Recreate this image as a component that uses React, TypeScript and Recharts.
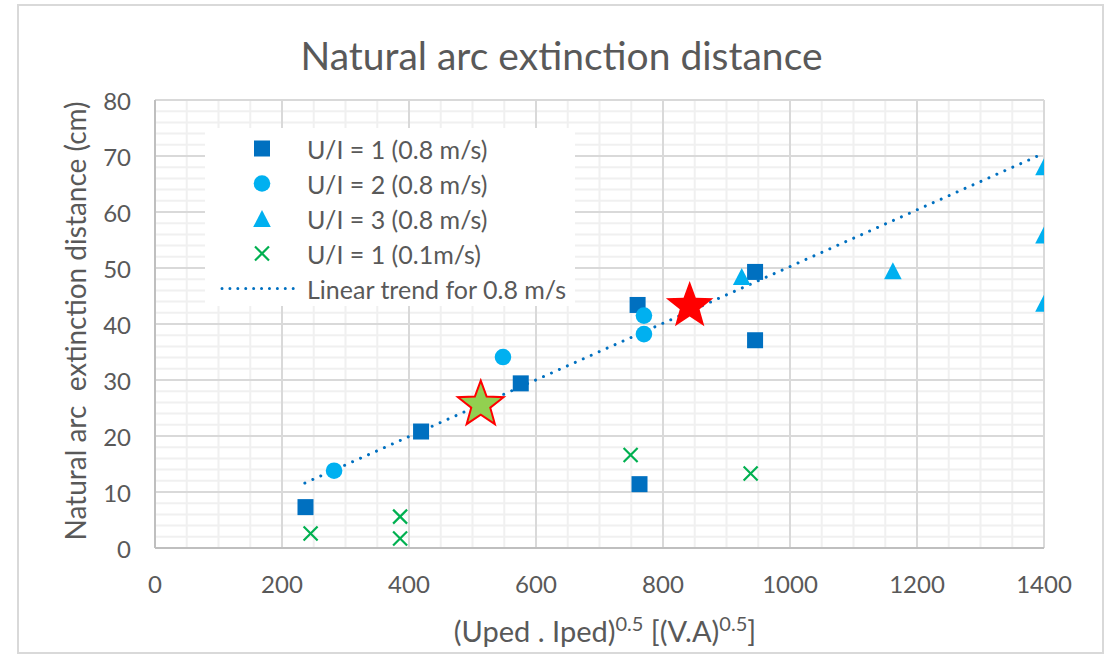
import React from 'react';
import { ScatterChart, Scatter, XAxis, YAxis, ReferenceLine, Legend } from 'recharts';

// ---- data ----
const ui1Fast = [
  { x: 237, y: 7.3 }, { x: 419, y: 20.8 }, { x: 576, y: 29.4 }, { x: 760, y: 43.4 },
  { x: 763, y: 11.4 }, { x: 945, y: 49.3 }, { x: 945, y: 37.1 },
];
const ui2Fast = [{ x: 282, y: 13.8 }, { x: 548, y: 34.1 }, { x: 770, y: 41.5 }, { x: 770, y: 38.2 }];
const ui3Fast = [{ x: 924, y: 48.5 }, { x: 1162, y: 49.5 }, { x: 1400, y: 68.1 }, { x: 1400, y: 55.9 }, { x: 1400, y: 43.7 }];
const ui1Slow = [{ x: 245, y: 2.6 }, { x: 386, y: 5.6 }, { x: 386, y: 1.7 }, { x: 749, y: 16.6 }, { x: 938, y: 13.3 }];
const trend = [{ x: 236, y: 11.6 }, { x: 1400, y: 70.5 }];
const greenStar = [{ x: 513, y: 25.6 }];
const redStar = [{ x: 842, y: 43.2 }];

const xTicks = [0, 200, 400, 600, 800, 1000, 1200, 1400];
const yTicks = [0, 10, 20, 30, 40, 50, 60, 70, 80];
const xMajorGrid = [200, 400, 600, 800, 1000, 1200, 1400];
const yMajorGrid = [10, 20, 30, 40, 50, 60, 70, 80];
const xMinorGrid = [50, 100, 150, 250, 300, 350, 450, 500, 550, 650, 700, 750, 850, 900, 950, 1050, 1100, 1150, 1250, 1300, 1350];
const yMinorGrid = [2, 4, 6, 8, 12, 14, 16, 18, 22, 24, 26, 28, 32, 34, 36, 38, 42, 44, 46, 48, 52, 54, 56, 58, 62, 64, 66, 68, 72, 74, 76, 78];

const legendItems = [
  { label: 'U/I = 1 (0.8 m/s)', kind: 'square' },
  { label: 'U/I = 2 (0.8 m/s)', kind: 'circle' },
  { label: 'U/I = 3 (0.8 m/s)', kind: 'triangle' },
  { label: 'U/I = 1 (0.1m/s)', kind: 'cross' },
  { label: 'Linear trend for 0.8 m/s', kind: 'line' },
];

const DARK_BLUE = '#0070C0';
const LIGHT_BLUE = '#00B0F0';
const GREEN = '#00B050';
const TEXT = '#595959';
const FONT = 'Lato, "Open Sans", sans-serif';

const squareShape = (p: any) => <rect x={p.cx - 8} y={p.cy - 8} width={16} height={16} fill={DARK_BLUE} />;
const circleShape = (p: any) => <circle cx={p.cx} cy={p.cy} r={8.3} fill={LIGHT_BLUE} />;
const triangleShape = (p: any) => (
  <polygon points={`${p.cx},${p.cy - 8.5} ${p.cx + 8.8},${p.cy + 8.5} ${p.cx - 8.8},${p.cy + 8.5}`} fill={LIGHT_BLUE} />
);
const crossShape = (p: any) => (
  <g stroke={GREEN} strokeWidth={2.2}>
    <line x1={p.cx - 7} y1={p.cy - 7} x2={p.cx + 7} y2={p.cy + 7} />
    <line x1={p.cx - 7} y1={p.cy + 7} x2={p.cx + 7} y2={p.cy - 7} />
  </g>
);
const starPoints = (cx: number, cy: number, R: number, r: number) => {
  const pts: string[] = [];
  for (let i = 0; i < 10; i++) {
    const rad = i % 2 === 0 ? R : r;
    const a = -Math.PI / 2 + (i * Math.PI) / 5;
    pts.push(`${cx + rad * Math.cos(a)},${cy + rad * Math.sin(a)}`);
  }
  return pts.join(' ');
};
const greenStarShape = (p: any) => (
  <polygon points={starPoints(p.cx, p.cy, 24, 10)} fill="#92D050" stroke="#FF0000" strokeWidth={2} strokeLinejoin="miter" />
);
const redStarShape = (p: any) => <polygon points={starPoints(p.cx, p.cy, 25, 10.4)} fill="#FF0000" />;
const noShape = () => null;

const LegendIcon = ({ kind }: { kind: string }) => {
  const cx = 57;
  const cy = 17.5;
  return (
    <svg width={100} height={35} style={{ flex: 'none' }}>
      {kind === 'square' && <rect x={cx - 8} y={cy - 8} width={16} height={16} fill={DARK_BLUE} />}
      {kind === 'circle' && <circle cx={cx} cy={cy} r={8.3} fill={LIGHT_BLUE} />}
      {kind === 'triangle' && (
        <polygon points={`${cx},${cy - 8.5} ${cx + 8.8},${cy + 8.5} ${cx - 8.8},${cy + 8.5}`} fill={LIGHT_BLUE} />
      )}
      {kind === 'cross' && (
        <g stroke={GREEN} strokeWidth={2.2}>
          <line x1={cx - 7} y1={cy - 7} x2={cx + 7} y2={cy + 7} />
          <line x1={cx - 7} y1={cy + 7} x2={cx + 7} y2={cy - 7} />
        </g>
      )}
      {kind === 'line' && (
        <line x1={17} y1={cy} x2={89} y2={cy} stroke={DARK_BLUE} strokeWidth={3} strokeDasharray="0.01 7.9" strokeLinecap="round" />
      )}
    </svg>
  );
};

const renderLegend = () => (
  <div style={{ background: '#ffffff', width: 370, height: 178, paddingTop: 3, boxSizing: 'border-box' }}>
    {legendItems.map((it) => (
      <div key={it.label} style={{ display: 'flex', alignItems: 'center', height: 35 }}>
        <LegendIcon kind={it.kind} />
        <span style={{ marginLeft: 2, fontFamily: FONT, fontSize: 25, color: TEXT, whiteSpace: 'nowrap' }}>{it.label}</span>
      </div>
    ))}
  </div>
);

const XTick = (p: any) => (
  <text x={p.x} y={p.y + 35} textAnchor="middle" dominantBaseline="central" fill={TEXT} fontFamily={FONT} fontSize={24}>
    {p.payload.value}
  </text>
);
const YTick = (p: any) => (
  <text x={p.x - 24} y={p.y} textAnchor="end" dominantBaseline="central" fill={TEXT} fontFamily={FONT} fontSize={24}>
    {p.payload.value}
  </text>
);

export default function App() {
  return (
    <div style={{ position: 'absolute', left: 0, top: 0, width: 1109, height: 657, background: '#fff' }}>
      <div
        style={{
          position: 'absolute', left: 17, top: 4, width: 1087, height: 650,
          border: '2px solid #d9d9d9', boxSizing: 'border-box',
        }}
      />
      <ScatterChart width={1109} height={657} margin={{ top: 100, right: 65, bottom: 79, left: 95 }}>
        <XAxis
          type="number" dataKey="x" domain={[0, 1400]} ticks={xTicks} height={30}
          tickSize={0} tickMargin={0} tickLine={false} tick={<XTick />}
          axisLine={{ stroke: '#bfbfbf', strokeWidth: 2 }} allowDataOverflow
        />
        <YAxis
          type="number" dataKey="y" domain={[0, 80]} ticks={yTicks} width={60}
          tickSize={0} tickMargin={0} tickLine={false} tick={<YTick />} interval={0}
          axisLine={{ stroke: '#bfbfbf', strokeWidth: 2 }} allowDataOverflow
        />
        {xMinorGrid.map((v) => <ReferenceLine key={'xm' + v} x={v} stroke="#f0f0f0" strokeWidth={2} />)}
        {yMinorGrid.map((v) => <ReferenceLine key={'ym' + v} y={v} stroke="#f0f0f0" strokeWidth={2} />)}
        {xMajorGrid.map((v) => <ReferenceLine key={'xM' + v} x={v} stroke="#d9d9d9" strokeWidth={2} />)}
        {yMajorGrid.map((v) => <ReferenceLine key={'yM' + v} y={v} stroke="#d9d9d9" strokeWidth={2} />)}
        <Legend layout="vertical" align="center" verticalAlign="middle" content={renderLegend}
          wrapperStyle={{ left: 205, top: 128, width: 370, height: 178 }} />
        <Scatter name="trend" data={trend} shape={noShape} isAnimationActive={false}
          line={{ stroke: DARK_BLUE, strokeWidth: 3, strokeDasharray: '0.01 8.7', strokeLinecap: 'round' }} />
        <Scatter name="U/I = 1 (0.8 m/s)" data={ui1Fast} shape={squareShape} isAnimationActive={false} />
        <Scatter name="U/I = 2 (0.8 m/s)" data={ui2Fast} shape={circleShape} isAnimationActive={false} />
        <Scatter name="U/I = 3 (0.8 m/s)" data={ui3Fast} shape={triangleShape} isAnimationActive={false} />
        <Scatter name="U/I = 1 (0.1m/s)" data={ui1Slow} shape={crossShape} isAnimationActive={false} />
        <Scatter name="green star" data={greenStar} shape={greenStarShape} isAnimationActive={false} />
        <Scatter name="red star" data={redStar} shape={redStarShape} isAnimationActive={false} />
      </ScatterChart>
      <div style={{
        position: 'absolute', left: 18, width: 1087, top: 32, height: 46, lineHeight: '46px', textAlign: 'center',
        fontFamily: FONT, fontSize: 39, color: TEXT, whiteSpace: 'nowrap',
      }}>Natural arc extinction distance</div>
      <div style={{
        position: 'absolute', left: 605, top: 627, transform: 'translate(-50%, -50%)',
        fontFamily: FONT, fontSize: 29, color: TEXT, whiteSpace: 'nowrap', lineHeight: '32px',
      }}>(Uped . Iped)<sup style={{ fontSize: 20 }}>0.5</sup> [(V.A)<sup style={{ fontSize: 20 }}>0.5</sup>]</div>
      <div style={{
        position: 'absolute', left: 75, top: 321, transform: 'translate(-50%, -50%) rotate(-90deg)',
        fontFamily: FONT, fontSize: 28, color: TEXT, whiteSpace: 'pre', lineHeight: '32px',
      }}>{'Natural arc  extinction distance (cm)'}</div>
    </div>
  );
}
